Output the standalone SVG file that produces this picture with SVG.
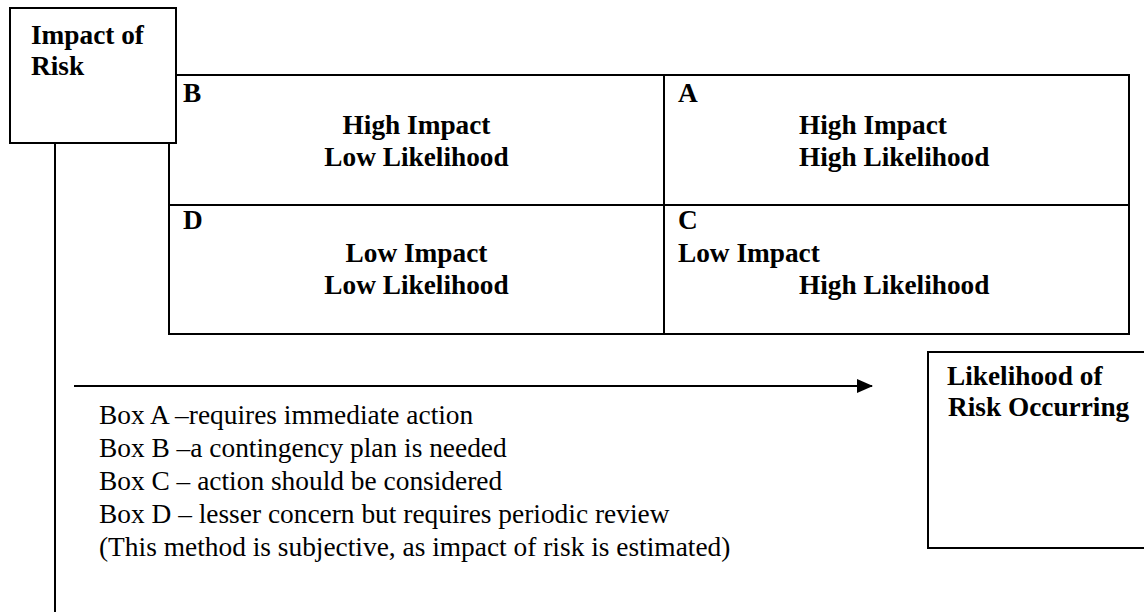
<svg xmlns="http://www.w3.org/2000/svg" width="1144" height="612" viewBox="0 0 1144 612">
<style>
.ln{stroke:#000;stroke-width:2;fill:none}
.box{stroke:#000;stroke-width:2;fill:#fff}
.b{font-family:"Liberation Serif","Times New Roman",serif;font-weight:bold;font-size:27.3px;fill:#000}
.r{font-family:"Liberation Serif","Times New Roman",serif;font-size:27.4px;fill:#000}
</style>
<defs>
<marker id="arr" markerWidth="16" markerHeight="14" refX="15" refY="7" orient="auto" markerUnits="userSpaceOnUse">
<path d="M0,0 L16,7 L0,14 Z" fill="#000"/>
</marker>
</defs>
<rect width="1144" height="612" fill="#fff"/>
<g id="connectors">
<line class="ln" x1="55" y1="143" x2="55" y2="612"/>
<line class="ln" x1="74" y1="386" x2="872" y2="386" marker-end="url(#arr)"/>
</g>
<g id="matrix">
<rect class="ln" x="169" y="75" width="960" height="259"/>
<line class="ln" x1="664" y1="75" x2="664" y2="334"/>
<line class="ln" x1="169" y1="205" x2="1129" y2="205"/>
</g>
<g id="boxB">
<text class="b" x="183" y="102">B</text>
<text class="b" x="416.5" y="134" text-anchor="middle">High Impact</text>
<text class="b" x="416.5" y="166" text-anchor="middle">Low Likelihood</text>
</g>
<g id="boxA">
<text class="b" x="678" y="102">A</text>
<text class="b" x="799" y="134">High Impact</text>
<text class="b" x="799" y="166">High Likelihood</text>
</g>
<g id="boxD">
<text class="b" x="183" y="229">D</text>
<text class="b" x="416.5" y="262" text-anchor="middle">Low Impact</text>
<text class="b" x="416.5" y="294" text-anchor="middle">Low Likelihood</text>
</g>
<g id="boxC">
<text class="b" x="678" y="229">C</text>
<text class="b" x="678" y="262">Low Impact</text>
<text class="b" x="799" y="294">High Likelihood</text>
</g>
<g id="impact">
<rect class="box" x="10" y="8" width="166" height="135"/>
<text class="b" x="31" y="44">Impact of</text>
<text class="b" x="31" y="75">Risk</text>
</g>
<g id="likelihood">
<rect class="box" x="928" y="352" width="230" height="196"/>
<text class="b" x="947" y="385">Likelihood of</text>
<text class="b" x="948" y="416">Risk Occurring</text>
</g>
<g id="notes">
<text class="r" x="99" y="424">Box A –requires immediate action</text>
<text class="r" x="99" y="457">Box B –a contingency plan is needed</text>
<text class="r" x="99" y="490">Box C – action should be considered</text>
<text class="r" x="99" y="523">Box D – lesser concern but requires periodic review</text>
<text class="r" x="99" y="556">(This method is subjective, as impact of risk is estimated)</text>
</g>
</svg>
